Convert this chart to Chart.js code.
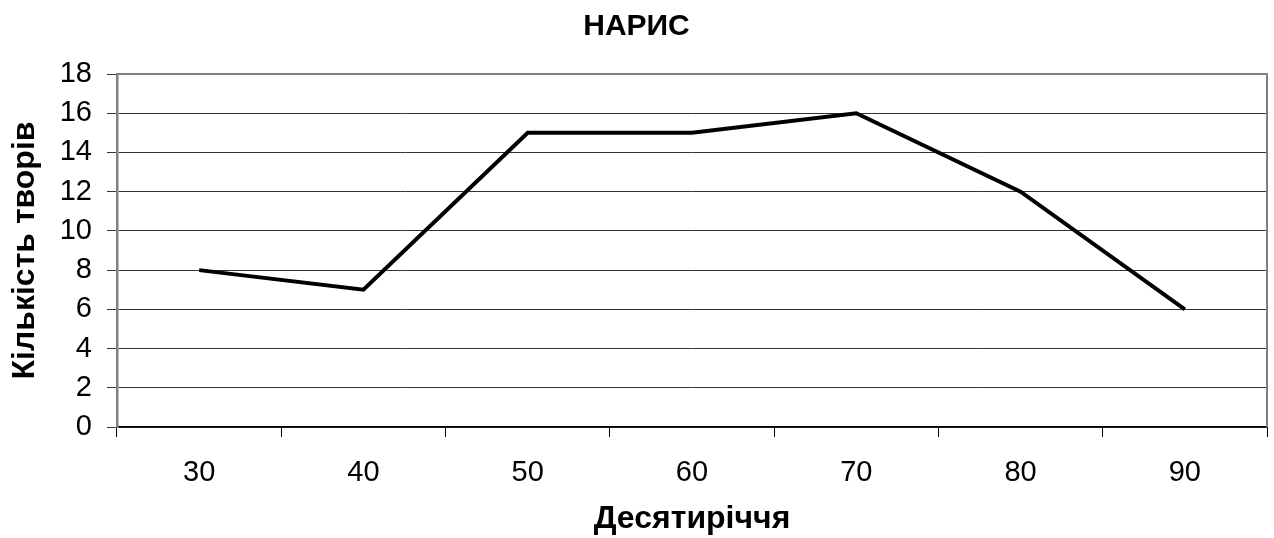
<!DOCTYPE html>
<html>
<head>
<meta charset="utf-8">
<script src="https://cdn.jsdelivr.net/npm/chart.js@4"></script>
<style>
  body { margin: 0; background: #fff; }
</style>
</head>
<body>
<canvas id="myChart" width="1274" height="538"></canvas>
<script>
const decades = ['30', '40', '50', '60', '70', '80', '90'];
const worksCount = [8, 7, 15, 15, 16, 12, 6];
const yTicks = [0, 2, 4, 6, 8, 10, 12, 14, 16, 18];

const font = 'Arial, "Liberation Sans", sans-serif';

// gray frame round the plot area (top and right side)
const plotFrame = {
  id: 'plotFrame',
  afterDraw(chart) {
    const a = chart.chartArea;
    const c = chart.ctx;
    c.save();
    c.strokeStyle = '#808080';
    c.lineWidth = 2;
    c.beginPath();
    c.moveTo(a.left, a.top);
    c.lineTo(a.right, a.top);
    c.lineTo(a.right, a.bottom);
    c.stroke();
    c.restore();
  }
};

const ctx = document.getElementById('myChart').getContext('2d');
const chart = new Chart(ctx, {
  type: 'line',
  data: {
    labels: decades,
    datasets: [{
      label: 'НАРИС',
      data: worksCount,
      borderColor: '#000',
      borderWidth: 4,
      pointRadius: 0,
      tension: 0
    }]
  },
  options: {
    responsive: false,
    animation: false,
    layout: { padding: { top: 0, right: 7, bottom: 0, left: 6 } },
    plugins: {
      legend: { display: false },
      tooltip: { enabled: false },
      title: {
        display: true,
        text: 'НАРИС',
        color: '#000',
        font: { family: font, size: 30, weight: 'bold' },
        padding: { top: 9, bottom: 29 }
      }
    },
    scales: {
      x: {
        offset: true,
        afterFit(axis) { axis.height = 111; },
        grid: {
          offset: true,
          drawOnChartArea: false,
          drawTicks: true,
          tickLength: 10,
          color: '#000',
          lineWidth: 1
        },
        border: { color: '#000', width: 1.5 },
        ticks: {
          color: '#000',
          font: { family: font, size: 29 },
          padding: 19
        },
        title: {
          display: true,
          text: 'Десятиріччя',
          color: '#000',
          font: { family: font, size: 32, weight: 'bold' },
          padding: { top: 4, bottom: 0 }
        }
      },
      y: {
        min: 0,
        max: 18,
        afterFit(axis) { axis.width = 111; },
        afterBuildTicks(axis) {
          axis.ticks = yTicks.map(v => ({ value: v }));
        },
        grid: {
          color: '#333',
          lineWidth: 1,
          tickLength: 10
        },
        border: { color: '#808080', width: 2.5 },
        ticks: {
          color: '#000',
          font: { family: font, size: 29 },
          padding: 15
        },
        title: {
          display: true,
          text: 'Кількість творів',
          color: '#000',
          font: { family: font, size: 32, weight: 'bold' },
          padding: { top: 0, bottom: 0 }
        }
      }
    }
  },
  plugins: [plotFrame]
});
</script>
</body>
</html>
